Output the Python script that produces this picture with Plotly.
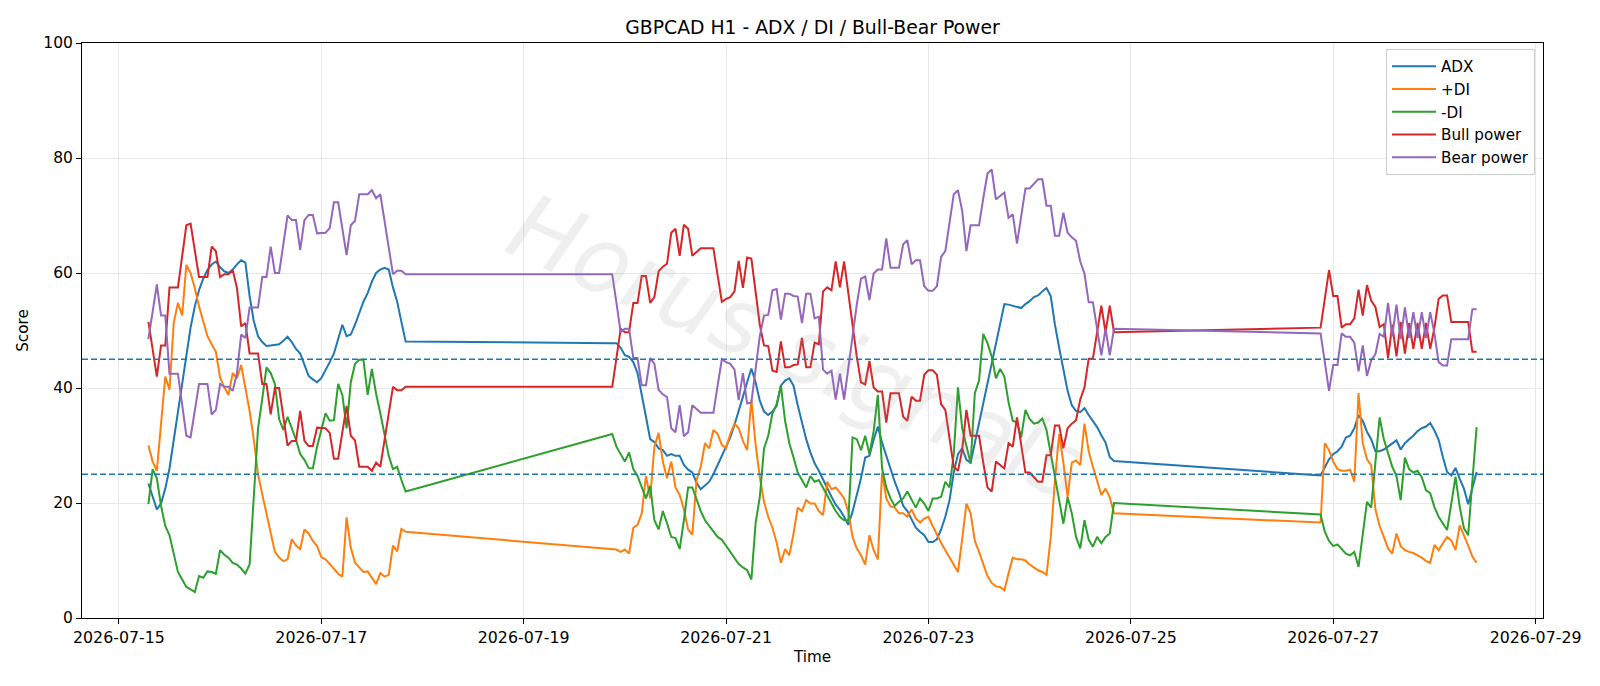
import pandas as pd
import plotly.graph_objects as go

# ---- time axis: three trading sessions of hourly bars ----
seg_starts = ["2026-07-15 07:00", "2026-07-19 21:00", "2026-07-26 21:00"]
seg_lengths = [62, 120, 38]

# ---- ADX ----
adx_s1 = [23.4, 21.1, 18.9, 19.9, 22.5, 26, 31, 36, 41, 46,
          50.5, 54.2, 57, 59, 60.5, 61.5, 62, 61, 60.3, 60,
          60.6, 61.5, 62.2, 61.8, 56, 51.6, 49, 48, 47.3, 47.4,
          47.5, 47.6, 48.2, 48.9, 48, 46.8, 46, 44, 42.1, 41.5,
          41, 41.7, 43, 44.5, 46, 48.5, 51, 49, 49.3, 51,
          53, 55, 56.5, 58.5, 60, 60.6, 60.9, 60.6, 57.5, 55,
          51.5, 48.1]
adx_s2 = [47.8, 47.8, 47, 45.7, 45.4, 44.5, 42.6, 39, 35, 31.1,
          30.6, 29.5, 29.2, 28.2, 28.5, 28.2, 28.2, 26.6, 25.8, 25.3,
          23.5, 22.4, 23.1, 23.7, 25, 26.6, 28.2, 29.5, 31.4, 33.6,
          35.9, 38.5, 41, 43.4, 41, 37.8, 35.9, 35.3, 35.9, 36.9,
          40.4, 41.3, 41.7, 40.4, 37, 34, 31.1, 28.8, 26.9, 25.6,
          24, 22.4, 21.1, 19.7, 18.8, 17.6, 16.2, 18.5, 21.4, 24.3,
          27.9, 28.2, 31, 33.3, 30.5, 28.2, 25.9, 23.7, 21.8, 19.5,
          18.6, 17, 15.7, 15, 14.4, 13.2, 13.2, 13.7, 15.4, 17.6,
          20.5, 25.3, 28.5, 29.5, 27.5, 27, 30.5, 33.7, 37.2, 40.7,
          44.2, 48, 51.6, 54.6, 54.5, 54.3, 54.2, 53.9, 54.6, 55.1,
          55.8, 56.1, 56.8, 57.4, 56, 51, 47, 43, 39.5, 37,
          36, 35.8, 36.5, 35.3, 34.3, 33.2, 31.8, 30.5, 28, 27.3]
adx_s3 = [24.8, 26.3, 27.6, 28.5, 29, 29.8, 31.4, 31.7, 33, 35.3,
          34.3, 32.4, 31.1, 29, 29, 29.3, 29.8, 30.4, 30.9, 29.3,
          30.4, 31.1, 31.7, 32.5, 33, 33.3, 33.9, 32.6, 31, 28,
          25.4, 24.8, 26.1, 24.2, 22.5, 19.8, 22.5, 25.4]

# ---- +DI ----
pdi_s1 = [30, 27.2, 25.6, 33.6, 42, 39.7, 51.3, 54.8, 52.6, 61.4,
          60, 57.4, 54.2, 51.6, 49, 47.6, 46.3, 41.8, 40.1, 38.8,
          42.6, 41.7, 44, 40, 36, 31, 25, 21.5, 18.2, 15,
          11.5, 10.5, 9.9, 10.2, 13.7, 12.6, 12, 15.4, 14.7, 13.4,
          12.5, 10.6, 10.2, 9.4, 8.6, 7.7, 7.2, 17.5, 12.2, 9.6,
          8.8, 8, 8.1, 7, 5.9, 7.8, 7.2, 7.5, 12.6, 11.6,
          15.5, 15]
pdi_s2 = [12, 11.9, 11.5, 11.9, 11.2, 15.7, 16.2, 18.2, 24.7, 20.8,
          29.8, 32.2, 27.2, 24.3, 27.2, 22.7, 21.4, 18.9, 15.4, 14.5,
          24, 26.3, 30.4, 29.5, 32.7, 32, 30.1, 29.5, 32, 33.8,
          33, 30.8, 29.2, 38, 30.2, 24.5, 20.2, 17.6, 15.7, 13.1,
          9.6, 12, 10.9, 14.7, 19.2, 18.6, 20.5, 19.9, 19.9, 18.6,
          17.9, 23.7, 22.4, 22.7, 21.8, 20.8, 18.5, 14.1, 12.1, 10.9,
          9.3, 14.4, 11.8, 10.2, 25.3, 20.8, 19.4, 19.2, 18.2, 18.2,
          17.6, 18.9, 17.3, 16.6, 17.3, 17.6, 16, 14.4, 13.1, 11.8,
          10.5, 9.3, 8, 13.7, 19.9, 18.2, 13.4, 11.5, 9.3, 7.3,
          6.1, 5.5, 5.4, 4.8, 7.8, 10.5, 10.2, 10.2, 10, 9.3,
          8.8, 8.3, 8, 7.5, 14, 24, 32, 27, 21, 27,
          27.4, 26.6, 33.8, 29, 26.3, 24, 21.4, 22.5, 21, 18.2]
pdi_s3 = [16.6, 30.4, 29.2, 27.2, 25.9, 25.6, 25.6, 25.8, 23.7, 39.1,
          30.4, 27.6, 26.6, 18.9, 16, 14.1, 12.1, 11.2, 14.7, 12.5,
          11.8, 11.5, 11.3, 10.9, 10.5, 9.9, 9.6, 12.7, 11.8, 13,
          14.1, 13.5, 11.8, 16.1, 14.5, 12.6, 10.7, 9.6]

# ---- -DI ----
mdi_s1 = [19.8, 25.9, 24.3, 19.5, 16, 14.4, 11.2, 8, 6.7, 5.4,
          5, 4.5, 7.3, 7, 8.1, 8, 7.7, 11.8, 11, 10.5,
          9.6, 9.3, 8.6, 7.7, 9.3, 22, 33, 38.1, 43.6, 42.6,
          40.7, 34.6, 32.7, 35, 33, 31, 28.5, 27.5, 26.1, 26,
          29.8, 32.5, 35.6, 34.3, 34.4, 40.7, 38.8, 33, 41, 44.2,
          44.9, 44.9, 38.8, 43.3, 39, 35.6, 32, 28.2, 25.9, 26.3,
          24, 22]
mdi_s2 = [32, 29.8, 28.5, 27.2, 28.8, 25.9, 24.7, 22.7, 20.8, 23,
          17, 15.4, 18.6, 16.5, 14.1, 13.9, 12, 17, 22.7, 22.7,
          20.5, 18.6, 17, 16, 15, 14.1, 13.6, 12.5, 11.5, 10.5,
          9.4, 8.8, 8.3, 6.7, 16.5, 21, 29.5, 31.7, 35.6, 37.2,
          40.4, 34.3, 30.4, 27.9, 25.3, 24, 22.7, 24.7, 23.7, 24,
          22.7, 21.4, 19.9, 18.6, 17.6, 17, 17, 31.4, 31.1, 29.2,
          31.7, 28.5, 32.5, 38.8, 26, 22.7, 20.8, 19.5, 20.2, 20.8,
          22, 20.5, 19.2, 20.8, 19.9, 18.6, 20.8, 20.8, 21.1, 23.7,
          22.7, 28.5, 40.1, 33, 29.8, 26.9, 39.1, 41.3, 49.4, 47.8,
          45.5, 41.7, 43.3, 42, 37.5, 34.3, 34, 31.4, 36.2, 34.6,
          33.8, 34, 34.7, 32.7, 28.6, 24.5, 21, 16.4, 21, 18.2,
          14.1, 12.1, 17, 13.6, 12.4, 14.1, 13, 14.1, 14.7, 20]
mdi_s3 = [18, 15, 13.4, 12.5, 12.8, 12, 11.2, 10.9, 11.5, 8.9,
          15, 20.2, 19.2, 27.2, 34.9, 31.1, 28.5, 26.3, 24.7, 20.5,
          27.9, 25.9, 25.3, 25.6, 24.5, 22.2, 21.7, 19.3, 17.6, 16.4,
          15.3, 19.9, 24.6, 19.3, 15.6, 14.4, 24, 33.2]

# ---- Bull power ----
bull_s1 = [51.5, 47, 42, 47.4, 47.4, 57.5, 57.5, 57.5, 62.9, 68.3,
           68.6, 63.8, 59.3, 59.3, 59.3, 64.6, 63.8, 59.3, 59.8, 59.8,
           60.5, 57.4, 50.7, 51.3, 46, 46, 46, 40.7, 40.7, 35.4,
           40, 40, 35, 30, 30.8, 30.8, 36, 30.8, 29.9, 29.9,
           33.1, 33.1, 33, 32.2, 27.7, 27.7, 32.2, 36.9, 31.7, 30.9,
           26.3, 26.3, 26.3, 25.6, 27, 26.3, 30.9, 35.6, 40.2, 39.6,
           39.6, 40.2]
bull_s2 = [40.2, 45.2, 50.3, 49.7, 49.7, 54.8, 54.8, 59.5, 59.5, 54.8,
           55.8, 60.3, 61.1, 61.6, 67, 67.7, 63, 68.4, 67.7, 63,
           63.7, 64.3, 64.3, 64.3, 64.3, 59.6, 55, 55.5, 55.8, 56.8,
           62.1, 57.4, 62.7, 62.5, 57, 51, 47.4, 47.3, 43, 42.8,
           48.1, 43.6, 43.6, 44, 44.1, 48.7, 43.6, 43.6, 47.9, 47.6,
           56.8, 57.5, 57, 62, 57.5, 62, 56.5, 51, 45.5, 41,
           40.6, 44.7, 40.1, 39.4, 39.4, 34, 39.1, 39.1, 39.1, 35,
           34.3, 38.5, 37.8, 37.8, 42.3, 43.1, 43.1, 42.3, 37.2, 36.2,
           31.1, 26.3, 25.6, 29.2, 36.2, 31.7, 31.7, 31.7, 27, 22.7,
           22, 27.2, 26.6, 26, 30.4, 29.8, 34.9, 30, 25.3, 25.3,
           24.5, 23.7, 23.7, 28.3, 28.3, 33.5, 33.5, 29.5, 33, 33.8,
           34.4, 38, 40.1, 45.1, 45.1, 49.7, 54.3, 49.7, 54.3, 49.7]
bull_s3 = [50.5, 55.5, 60.5, 56, 56, 50.5, 51.1, 51.1, 52.1, 57.1,
           52.6, 57.9, 55.2, 54.1, 50.6, 51.1, 45.2, 51, 45.5, 51.5,
           46, 51.3, 46.8, 51.3, 46.8, 51.3, 46.8, 50.5, 55.5, 56.1,
           56.1, 51.5, 51.5, 51.5, 51.5, 51.5, 46.3, 46.3]

# ---- Bear power ----
bear_s1 = [48.5, 53, 58, 52.6, 52.6, 42.5, 42.5, 42.5, 37.1, 31.7,
           31.4, 36.2, 40.7, 40.7, 40.7, 35.4, 36.2, 40.7, 40.2, 40.2,
           39.5, 42.6, 49.3, 48.7, 54, 54, 54, 59.3, 59.3, 64.6,
           60, 60, 65, 70, 69.2, 69.2, 64, 69.2, 70.1, 70.1,
           66.9, 66.9, 67, 67.8, 72.3, 72.3, 67.8, 63.1, 68.3, 69.1,
           73.7, 73.7, 73.7, 74.4, 73, 73.7, 69.1, 64.4, 59.8, 60.4,
           60.4, 59.8]
bear_s2 = [59.8, 54.8, 49.7, 50.3, 50.3, 45.2, 45.2, 40.5, 40.5, 45.2,
           44.2, 39.7, 38.9, 38.4, 33, 32.3, 37, 31.6, 32.3, 37,
           36.3, 35.7, 35.7, 35.7, 35.7, 40.4, 45, 44.5, 44.2, 43.2,
           37.9, 42.6, 37.3, 37.5, 43, 49, 52.6, 52.7, 57, 57.2,
           51.9, 56.4, 56.4, 56, 55.9, 51.3, 56.4, 56.4, 52.1, 52.4,
           43.2, 42.5, 43, 38, 42.5, 38, 43.5, 49, 54.5, 59,
           59.4, 55.3, 59.9, 60.6, 60.6, 66, 60.9, 60.9, 60.9, 65,
           65.7, 61.5, 62.2, 62.2, 57.7, 56.9, 56.9, 57.7, 62.8, 63.8,
           68.9, 73.7, 74.4, 70.8, 63.8, 68.3, 68.3, 68.3, 73, 77.3,
           78, 72.8, 73.4, 74, 69.6, 70.2, 65.1, 70, 74.7, 74.7,
           75.5, 76.3, 76.3, 71.7, 71.7, 66.5, 66.5, 70.5, 67, 66.2,
           65.6, 62, 59.9, 54.9, 54.9, 50.3, 45.7, 50.3, 45.7, 50.3]
bear_s3 = [49.5, 44.5, 39.5, 44, 44, 49.5, 48.9, 48.9, 47.9, 42.9,
           47.4, 42.1, 44.8, 45.9, 49.4, 48.9, 54.8, 49, 54.5, 48.5,
           54, 48.7, 53.2, 48.7, 53.2, 48.7, 53.2, 49.5, 44.5, 43.9,
           43.9, 48.5, 48.5, 48.5, 48.5, 48.5, 53.7, 53.7]

threshold_levels = [25, 45]
tick_dates = ["2026-07-15", "2026-07-17", "2026-07-19", "2026-07-21",
              "2026-07-23", "2026-07-25", "2026-07-27", "2026-07-29"]

# ---- assemble ----
times = []
for s, n in zip(seg_starts, seg_lengths):
    times.extend(pd.date_range(s, periods=n, freq="h"))

series = [
    ("ADX", adx_s1 + adx_s2 + adx_s3, "#1f77b4"),
    ("+DI", pdi_s1 + pdi_s2 + pdi_s3, "#ff7f0e"),
    ("-DI", mdi_s1 + mdi_s2 + mdi_s3, "#2ca02c"),
    ("Bull power", bull_s1 + bull_s2 + bull_s3, "#d62728"),
    ("Bear power", bear_s1 + bear_s2 + bear_s3, "#9467bd"),
]

FONT = "DejaVu Sans"
fig = go.Figure()
for name, vals, color in series:
    n = min(len(vals), len(times))
    fig.add_trace(go.Scatter(x=times[:n], y=vals[:n], mode="lines", name=name,
                             line=dict(color=color, width=2)))

for lvl in threshold_levels:
    fig.add_hline(y=lvl, line=dict(color="#1f77b4", width=1.5, dash="6px,3px"))

fig.add_annotation(text="Horus signals", xref="paper", yref="paper",
                   x=0.49, y=0.47, showarrow=False, textangle=24,
                   font=dict(family=FONT, size=92, color="rgba(150,150,150,0.15)",
                             style="italic"))

fig.update_layout(
    width=1600, height=686, autosize=False,
    margin=dict(l=82, r=57, t=43, b=68),
    paper_bgcolor="white", plot_bgcolor="white",
    font=dict(family=FONT, size=15.5, color="black"),
    title=dict(text="GBPCAD H1 - ADX / DI / Bull-Bear Power", x=0.5, xref="paper",
               xanchor="center", y=1 - 27 / 686, yanchor="middle",
               font=dict(size=18.8, family=FONT, color="black")),
    showlegend=True,
    legend=dict(x=0.9945, xanchor="right", y=0.99, yanchor="top",
                bgcolor="rgba(255,255,255,0.85)", bordercolor="#cccccc", borderwidth=1,
                font=dict(size=15.2, family=FONT), tracegroupgap=0, itemwidth=44),
)
fig.update_xaxes(
    type="date", range=["2026-07-14 15:15", "2026-07-29 01:45"],
    tickvals=tick_dates, ticktext=tick_dates,
    showgrid=True, gridcolor="#e8e8e8", gridwidth=1,
    showline=True, linecolor="black", linewidth=1, mirror=True,
    ticks="outside", ticklen=5, tickcolor="black",
    tickfont=dict(size=15.8),
    title=dict(text="Time", font=dict(size=15.2), standoff=5), zeroline=False,
)
fig.update_yaxes(
    range=[0, 100], tickvals=[0, 20, 40, 60, 80, 100],
    showgrid=True, gridcolor="#e8e8e8", gridwidth=1,
    showline=True, linecolor="black", linewidth=1, mirror=True,
    ticks="outside", ticklen=5, tickcolor="black",
    tickfont=dict(size=15.5),
    title=dict(text="Score", font=dict(size=15.2), standoff=10), zeroline=False,
)

fig.write_html("out.html")
